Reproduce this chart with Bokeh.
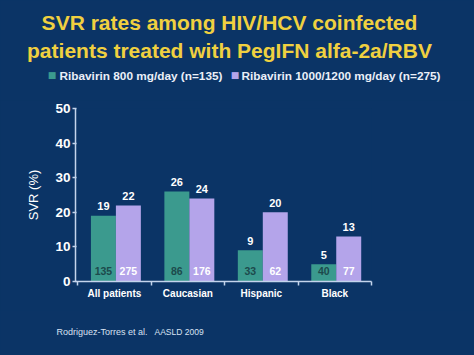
from bokeh.plotting import figure
from bokeh.layouts import column
from bokeh.models import Range1d, FixedTicker, Label, ColumnDataSource
from bokeh.core.properties import value
from bokeh.embed import file_html
from bokeh.resources import INLINE

# ---- data ----
categories = ["All patients", "Caucasian", "Hispanic", "Black"]
svr_800 = [19, 26, 9, 5]
svr_1000 = [22, 24, 20, 13]
n_800 = [135, 86, 33, 40]
n_1000 = [275, 176, 62, 77]
y_ticks = [0, 10, 20, 30, 40, 50]
series_names = ["Ribavirin 800 mg/day (n=135)",
                "Ribavirin 1000/1200 mg/day (n=275)"]
title_lines = ["SVR rates among HIV/HCV coinfected",
               "patients treated with PegIFN alfa-2a/RBV"]
source_note = ["Rodriguez-Torres et al.", "AASLD 2009"]

BG = "#0b3466"
TEAL = "#3b9a8e"
PURPLE = "#b4a4ea"
YELLOW = "#f0d040"
AXIS = "#c4d4ec"
FONT = "Liberation Sans"
W = 474
H_TOP, H_MAIN, H_BOT = 100, 210, 45


def no_align(f):
    try:
        f.frame_align = False
    except Exception:
        pass


def blank(h):
    f = figure(width=W, height=h, output_backend="svg", toolbar_location=None,
               x_axis_type=None, y_axis_type=None,
               x_range=Range1d(0, W), y_range=Range1d(h, 0), min_border=0)
    f.background_fill_color = BG
    f.border_fill_color = BG
    f.outline_line_color = None
    f.grid.grid_line_color = None
    no_align(f)
    return f


def lab(f, x, y, text, **kw):
    f.add_layout(Label(x=x, y=y, text=text, text_baseline="middle", **kw))


# ---- top: title + legend ----
top = blank(H_TOP)
for t, yy in zip(title_lines, [21.7, 50]):
    lab(top, 229, yy, t, text_align="center", text_color=YELLOW,
        text_font=FONT, text_font_size="21px", text_font_style="bold")
for sx, tx, col, name in [(51.5, 59, TEAL, series_names[0]),
                          (234.5, 241, PURPLE, series_names[1])]:
    lab(top, sx, 74.5, "\u25a0", text_align="center", text_color=col,
        text_font="DejaVu Sans", text_font_size="9px")
    lab(top, tx, 75, name, text_align="left", text_color="#eaeff8",
        text_font=FONT, text_font_size="11.8px", text_font_style="bold")

# ---- main chart ----
idx = list(range(len(categories)))
src = ColumnDataSource(dict(
    x1=[i + 0.35 for i in idx], x2=[i + 0.69 for i in idx],
    v1=svr_800, v2=svr_1000,
    t1=[str(v) for v in svr_800], t2=[str(v) for v in svr_1000],
    ty1=[v + 2.8 for v in svr_800], ty2=[v + 2.8 for v in svr_1000],
    n1=[str(v) for v in n_800], n2=[str(v) for v in n_1000],
    ny=[3.1] * len(idx),
))

p = figure(width=W, height=H_MAIN, output_backend="svg", toolbar_location=None,
           x_range=Range1d(-0.03, 4.0), y_range=Range1d(0, 50),
           min_border_left=75, min_border_right=103,
           min_border_top=8, min_border_bottom=29)
p.background_fill_color = BG
p.border_fill_color = BG
p.outline_line_color = None
p.grid.grid_line_color = None
no_align(p)

p.vbar(x="x1", top="v1", width=0.34, source=src,
       fill_color=TEAL, line_color=None)
p.vbar(x="x2", top="v2", width=0.34, source=src,
       fill_color=PURPLE, line_color=None)

common = dict(source=src, text_align="center", text_baseline="middle",
              text_font=value(FONT), text_font_style="bold")
p.text(x="x1", y="ty1", text="t1", text_color="white",
       text_font_size="11px", **common)
p.text(x="x2", y="ty2", text="t2", text_color="white",
       text_font_size="11px", **common)
p.text(x="x1", y="ny", text="n1", text_color="#1d4a4c",
       text_font_size="10.5px", **common)
p.text(x="x2", y="ny", text="n2", text_color="white",
       text_font_size="10.5px", **common)

xa = p.xaxis[0]
xa.ticker = FixedTicker(ticks=[i + 0.5 for i in idx],
                        minor_ticks=[0, 1, 2, 3, 4])
xa.major_label_overrides = {i + 0.5: c for i, c in zip(idx, categories)}
xa.major_tick_line_color = None
xa.major_tick_in = 0
xa.major_tick_out = 0
xa.minor_tick_line_color = AXIS
xa.minor_tick_line_width = 1.5
xa.minor_tick_in = 0
xa.minor_tick_out = 4
xa.axis_line_color = AXIS
xa.axis_line_width = 1.5
xa.major_label_text_color = "white"
xa.major_label_text_font = FONT
xa.major_label_text_font_size = "10px"
xa.major_label_text_font_style = "bold"
xa.major_label_standoff = 2

ya = p.yaxis[0]
ya.ticker = FixedTicker(ticks=y_ticks, minor_ticks=[])
ya.axis_line_color = AXIS
ya.axis_line_width = 1.5
ya.major_tick_line_color = AXIS
ya.major_tick_line_width = 1.5
ya.major_tick_in = 1
ya.major_tick_out = 3
ya.major_label_text_color = "white"
ya.major_label_text_font = FONT
ya.major_label_text_font_size = "13.5px"
ya.major_label_text_font_style = "bold"
ya.major_label_standoff = 2
ya.axis_label = "SVR (%)"
ya.axis_label_text_color = "white"
ya.axis_label_text_font = FONT
ya.axis_label_text_font_size = "13px"
ya.axis_label_text_font_style = "normal"
ya.axis_label_standoff = 11

# ---- bottom: source note ----
bot = blank(H_BOT)
lab(bot, 56, 21.7, source_note[0], text_align="left", text_color="#d8e2f2",
    text_font=FONT, text_font_size="9px")
lab(bot, 154, 21.7, source_note[1], text_align="left", text_color="#d8e2f2",
    text_font=FONT, text_font_size="8.5px")

layout = column(top, p, bot, spacing=0)
html = file_html(layout, INLINE)
html = html.replace(
    "<head>",
    "<head><style>html,body{background:%s;margin:0;padding:0;overflow:hidden;}</style>" % BG,
    1)
open("out.html", "w").write(html)
